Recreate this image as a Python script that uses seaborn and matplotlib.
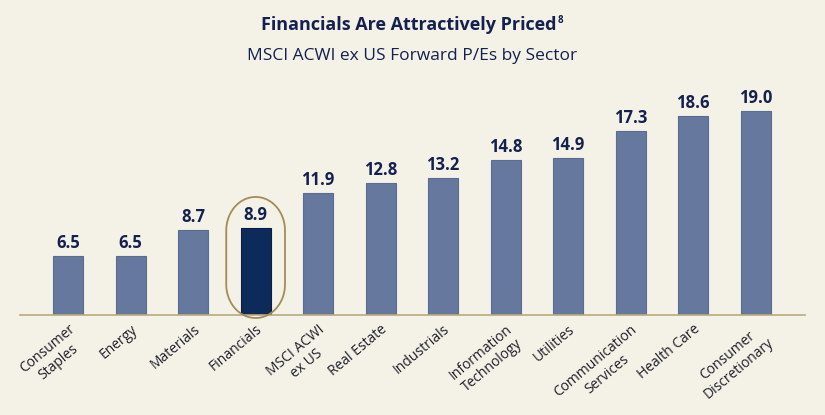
import matplotlib
matplotlib.use("Agg")
import matplotlib.pyplot as plt
from matplotlib.patches import Polygon
import numpy as np
import seaborn as sns
import pandas as pd

# ---- data ----
sectors = ["Consumer\nStaples", "Energy", "Materials", "Financials", "MSCI ACWI\nex US",
           "Real Estate", "Industrials", "Information\nTechnology", "Utilities",
           "Communication\nServices", "Health Care", "Consumer\nDiscretionary"]
forward_pe = [6.5, 6.5, 8.7, 8.9, 11.9, 12.8, 13.2, 14.8, 14.9, 17.3, 18.6, 19.0]
highlight = "Financials"

BG = "#F4F2E6"
BAR = "#67789E"
DARK = "#0C2A5A"
NAVY = "#14204F"
TAN = "#B9AB80"
GOLD = "#A38C55"

sns.set_theme(style="white")
plt.rcParams["font.family"] = ["Open Sans", "DejaVu Sans"]

df = pd.DataFrame({"sector": sectors, "pe": forward_pe})
colors = {s: (DARK if s == highlight else BAR) for s in sectors}

fig = plt.figure(figsize=(8.25, 4.15), dpi=100, facecolor=BG)
ax = fig.add_axes([20 / 825, 1 - 315 / 415, 785 / 825, 255 / 415])
ax.set_facecolor(BG)

sns.barplot(data=df, x="sector", y="pe", hue="sector", palette=colors,
            legend=False, width=0.48, ax=ax, saturation=1)
for bar, s in zip(ax.patches, sectors):
    bar.set_edgecolor("#0A1D44" if s == highlight else "#5A6B94")
    bar.set_linewidth(0.8)

ax.set_ylim(1.39, 23.4)
ax.set_xlim(-0.77, 11.79)

for i, v in enumerate(forward_pe):
    ax.text(i, v + 0.35, f"{v:.1f}", ha="center", va="bottom",
            fontsize=12, fontweight="bold", color=NAVY)

# stadium-shaped outline around the highlighted bar
hi = sectors.index(highlight)
rx, ry = 0.47, 2.9          # radii in data units (x: bar slots, y: P/E)
y_lo, y_hi = 1.13, 11.58
t = np.linspace(0, np.pi, 40)
top = np.column_stack([hi + rx * np.cos(t), (y_hi - ry) + ry * np.sin(t)])
bot = np.column_stack([hi - rx * np.cos(t), (y_lo + ry) - ry * np.sin(t)])
pill = Polygon(np.vstack([top, bot]), closed=True, facecolor="none",
               edgecolor=GOLD, linewidth=1.3, clip_on=False, zorder=3)
ax.add_patch(pill)

for side in ["top", "right", "left"]:
    ax.spines[side].set_visible(False)
ax.spines["bottom"].set_color(TAN)
ax.spines["bottom"].set_linewidth(1.2)
ax.set_yticks([])
ax.set_xlabel("")
ax.set_ylabel("")
ax.tick_params(axis="x", length=0, pad=5)
ax.set_xticks(range(len(sectors)))
ax.set_xticklabels(sectors, rotation=40, ha="right", rotation_mode="anchor",
                   fontsize=10, color="#1E1E2A", multialignment="center")

title = fig.text(0.496, 0.94, "Financials Are Attractively Priced", ha="center",
                 va="center", fontsize=13, fontweight="bold", color=NAVY)
fig.text(0.5, 0.865, "MSCI ACWI ex US Forward P/Es by Sector", ha="center",
         va="center", fontsize=12.5, color=NAVY)
ax.annotate("8", xy=(1, 1), xycoords=title, xytext=(0.8, 0.5),
            textcoords="offset points", fontsize=7, fontweight="bold",
            color=NAVY, ha="left", va="top")

fig.savefig("out.png", dpi=100, facecolor=BG)
